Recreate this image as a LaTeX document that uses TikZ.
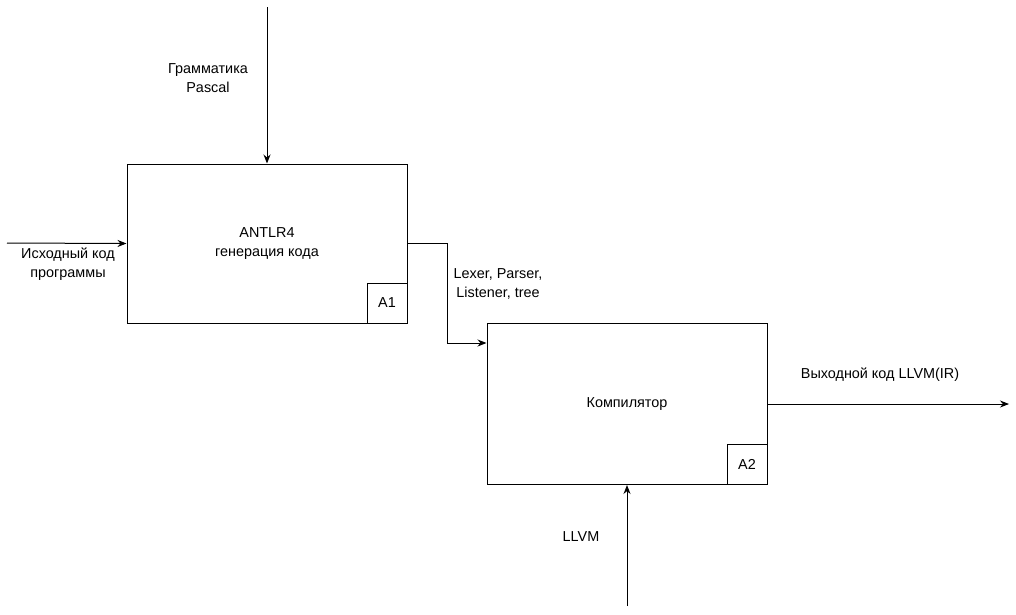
\documentclass[tikz,border=0pt]{standalone}
\usepackage{fontspec}
\setmainfont{Liberation Sans}
\usetikzlibrary{arrows.meta}
\begin{document}
\begin{tikzpicture}[x=1pt,y=-1pt,>={Stealth[length=9pt,width=7pt]},
    blok/.style={draw,line width=1pt,minimum width=280pt,minimum height=159pt,inner sep=0pt,align=center},
    nomer/.style={draw,line width=1pt,minimum size=40pt,inner sep=0pt,anchor=south east},
    lbl/.style={align=center,inner sep=0pt},
    every node/.append style={font=\fontsize{14.4}{19}\selectfont}]
    \useasboundingbox (0,0) rectangle (1016,614);
    \node[blok] (antlr) at (267,243.5) {ANTLR4\\генерация кода};
    \node[nomer] (a1) at (antlr.south east) {A1};
    \node[blok,minimum height=161pt] (komp) at (627,404) {Компилятор};
    \node[nomer] (a2) at (komp.south east) {A2};
    \coordinate (gr) at (267,7);
    \coordinate (ish) at (7,243);
    \coordinate (vyh) at (1009,404);
    \coordinate (llvm) at (627,606);
    \coordinate (izg) at (447,343);
    \draw[line width=1pt,->] (gr) -- (antlr.north);
    \draw[line width=1pt,->] (ish) -- (antlr.west);
    \draw[line width=1pt,->] (antlr.east) -| (izg) -- (izg -| komp.west);
    \draw[line width=1pt,->] (komp.east) -- (vyh);
    \draw[line width=1pt,->] (llvm) -- (komp.south);
    \node[lbl] (tgr) at (208,78) {Грамматика\\Pascal};
    \node[lbl] (tish) at (68,264) {Исходный код\\программы};
    \node[lbl] (tlex) at (498,284) {Lexer, Parser,\\Listener, tree};
    \node[lbl] (tvyh) at (880,375) {Выходной код LLVM(IR)};
    \node[lbl] (tllvm) at (581,537) {LLVM};
\end{tikzpicture}
\end{document}
